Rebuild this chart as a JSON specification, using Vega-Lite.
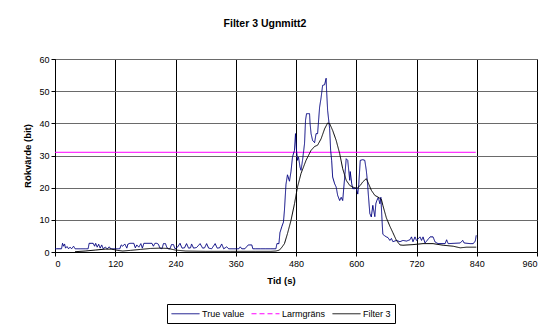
{
  "$schema": "https://vega.github.io/schema/vega-lite/v6.json",
  "width": 482,
  "height": 193,
  "autosize": {"type": "none"},
  "padding": {"left": 55, "top": 59, "right": 13, "bottom": 73},
  "background": "#ffffff",
  "title": {"text": "Filter 3 Ugnmitt2", "font": "Liberation Sans", "fontSize": 10.5, "fontWeight": "bold", "color": "#000000", "anchor": "middle", "dx": -31, "offset": 26},
  "config": {
    "view": {"stroke": "#808080", "strokeWidth": 1},
    "axis": {"labelFont": "Liberation Sans", "labelFontSize": 9, "labelColor": "#000000", "titleFont": "Liberation Sans", "titleFontSize": 9.5, "titleFontWeight": "bold", "titleColor": "#000000", "domainColor": "#000000", "tickColor": "#000000", "tickSize": 4}
  },
  "data": {"values": [
    {"s":"True value","t":0,"v":1.0},{"s":"True value","t":3,"v":1.0},{"s":"True value","t":6,"v":1.0},{"s":"True value","t":10,"v":1.0},{"s":"True value","t":13,"v":1.0},{"s":"True value","t":15,"v":2.7},{"s":"True value","t":17,"v":1.8},{"s":"True value","t":19,"v":2.5},{"s":"True value","t":21,"v":1.2},{"s":"True value","t":24,"v":1.7},{"s":"True value","t":27,"v":1.0},{"s":"True value","t":30,"v":1.5},{"s":"True value","t":33,"v":1.0},{"s":"True value","t":37,"v":1.8},{"s":"True value","t":40,"v":1.0},{"s":"True value","t":45,"v":1.0},{"s":"True value","t":50,"v":1.0},{"s":"True value","t":55,"v":1.0},{"s":"True value","t":60,"v":1.0},{"s":"True value","t":66,"v":1.0},{"s":"True value","t":68,"v":2.7},{"s":"True value","t":72,"v":2.7},{"s":"True value","t":76,"v":2.7},{"s":"True value","t":79,"v":1.8},{"s":"True value","t":81,"v":2.7},{"s":"True value","t":84,"v":1.5},{"s":"True value","t":87,"v":2.4},{"s":"True value","t":90,"v":1.2},{"s":"True value","t":93,"v":2.2},{"s":"True value","t":96,"v":1.0},{"s":"True value","t":100,"v":1.5},{"s":"True value","t":104,"v":1.0},{"s":"True value","t":108,"v":1.6},{"s":"True value","t":111,"v":1.0},{"s":"True value","t":115,"v":1.0},{"s":"True value","t":120,"v":1.0},{"s":"True value","t":125,"v":1.0},{"s":"True value","t":129,"v":1.0},{"s":"True value","t":132,"v":2.2},{"s":"True value","t":135,"v":1.8},{"s":"True value","t":139,"v":2.5},{"s":"True value","t":143,"v":1.2},{"s":"True value","t":145,"v":2.4},{"s":"True value","t":149,"v":2.7},{"s":"True value","t":153,"v":2.7},{"s":"True value","t":157,"v":2.7},{"s":"True value","t":160,"v":1.3},{"s":"True value","t":163,"v":2.2},{"s":"True value","t":167,"v":1.5},{"s":"True value","t":171,"v":2.6},{"s":"True value","t":174,"v":1.2},{"s":"True value","t":177,"v":2.7},{"s":"True value","t":181,"v":2.7},{"s":"True value","t":185,"v":2.7},{"s":"True value","t":189,"v":2.7},{"s":"True value","t":193,"v":2.7},{"s":"True value","t":196,"v":1.8},{"s":"True value","t":199,"v":2.7},{"s":"True value","t":203,"v":2.7},{"s":"True value","t":206,"v":2.4},{"s":"True value","t":209,"v":1.2},{"s":"True value","t":213,"v":1.0},{"s":"True value","t":216,"v":2.6},{"s":"True value","t":220,"v":2.6},{"s":"True value","t":223,"v":1.3},{"s":"True value","t":226,"v":1.0},{"s":"True value","t":229,"v":1.0},{"s":"True value","t":232,"v":2.3},{"s":"True value","t":236,"v":2.3},{"s":"True value","t":239,"v":1.0},{"s":"True value","t":244,"v":1.5},{"s":"True value","t":249,"v":2.7},{"s":"True value","t":253,"v":1.2},{"s":"True value","t":258,"v":1.3},{"s":"True value","t":262,"v":2.6},{"s":"True value","t":266,"v":1.2},{"s":"True value","t":270,"v":1.3},{"s":"True value","t":272,"v":2.5},{"s":"True value","t":276,"v":1.2},{"s":"True value","t":282,"v":1.4},{"s":"True value","t":289,"v":2.6},{"s":"True value","t":294,"v":1.2},{"s":"True value","t":298,"v":1.3},{"s":"True value","t":302,"v":2.6},{"s":"True value","t":306,"v":1.2},{"s":"True value","t":312,"v":1.0},{"s":"True value","t":319,"v":2.6},{"s":"True value","t":323,"v":1.2},{"s":"True value","t":328,"v":1.3},{"s":"True value","t":332,"v":2.5},{"s":"True value","t":336,"v":1.0},{"s":"True value","t":342,"v":1.6},{"s":"True value","t":346,"v":1.0},{"s":"True value","t":350,"v":1.0},{"s":"True value","t":360,"v":1.0},{"s":"True value","t":366,"v":1.0},{"s":"True value","t":369,"v":1.6},{"s":"True value","t":372,"v":1.0},{"s":"True value","t":378,"v":1.0},{"s":"True value","t":385,"v":2.2},{"s":"True value","t":388,"v":2.2},{"s":"True value","t":392,"v":2.2},{"s":"True value","t":394,"v":1.0},{"s":"True value","t":400,"v":1.0},{"s":"True value","t":410,"v":1.0},{"s":"True value","t":420,"v":1.0},{"s":"True value","t":430,"v":1.0},{"s":"True value","t":440,"v":1.0},
    {"s":"True value","t":442,"v":2.6},{"s":"True value","t":446,"v":2.6},{"s":"True value","t":448,"v":6.0},{"s":"True value","t":452,"v":8.0},{"s":"True value","t":455,"v":9.3},{"s":"True value","t":457,"v":13},{"s":"True value","t":460,"v":21},{"s":"True value","t":463,"v":24},{"s":"True value","t":467,"v":22},{"s":"True value","t":470,"v":25},{"s":"True value","t":473,"v":29.5},{"s":"True value","t":477,"v":31.6},{"s":"True value","t":479,"v":36.8},{"s":"True value","t":481,"v":31.6},{"s":"True value","t":483,"v":28.5},{"s":"True value","t":485,"v":29.5},{"s":"True value","t":488,"v":26.4},{"s":"True value","t":490,"v":25.4},{"s":"True value","t":493,"v":28.5},{"s":"True value","t":497,"v":33.7},{"s":"True value","t":499,"v":41},{"s":"True value","t":501,"v":43},{"s":"True value","t":507,"v":43},{"s":"True value","t":508,"v":40},{"s":"True value","t":510,"v":36.8},{"s":"True value","t":513,"v":34.7},{"s":"True value","t":517,"v":34},{"s":"True value","t":520,"v":36.8},{"s":"True value","t":523,"v":36.8},{"s":"True value","t":527,"v":45},{"s":"True value","t":530,"v":48},{"s":"True value","t":533,"v":51.8},{"s":"True value","t":537,"v":52},{"s":"True value","t":540,"v":54},{"s":"True value","t":541,"v":50},{"s":"True value","t":543,"v":44},{"s":"True value","t":547,"v":38.3},{"s":"True value","t":549,"v":31.6},{"s":"True value","t":551,"v":28.5},{"s":"True value","t":553,"v":23.3},{"s":"True value","t":557,"v":21.2},{"s":"True value","t":560,"v":20.2},{"s":"True value","t":563,"v":17.6},{"s":"True value","t":567,"v":16},{"s":"True value","t":570,"v":17},{"s":"True value","t":573,"v":16},{"s":"True value","t":577,"v":23.3},{"s":"True value","t":580,"v":29},{"s":"True value","t":583,"v":28.5},{"s":"True value","t":587,"v":22.3},{"s":"True value","t":588,"v":25},{"s":"True value","t":591,"v":21.2},{"s":"True value","t":593,"v":19.7},{"s":"True value","t":597,"v":19.7},{"s":"True value","t":600,"v":20},{"s":"True value","t":603,"v":18},{"s":"True value","t":605,"v":21},{"s":"True value","t":608,"v":28.5},{"s":"True value","t":613,"v":28.7},{"s":"True value","t":617,"v":28.5},{"s":"True value","t":620,"v":25.4},{"s":"True value","t":622,"v":22.3},{"s":"True value","t":624,"v":18},{"s":"True value","t":627,"v":12},{"s":"True value","t":630,"v":10.9},{"s":"True value","t":633,"v":14.5},{"s":"True value","t":637,"v":11},{"s":"True value","t":639,"v":15},{"s":"True value","t":641,"v":16},{"s":"True value","t":644,"v":17},{"s":"True value","t":647,"v":15},{"s":"True value","t":649,"v":17},{"s":"True value","t":652,"v":8},{"s":"True value","t":653,"v":5.5},{"s":"True value","t":657,"v":5.0},{"s":"True value","t":660,"v":4.7},{"s":"True value","t":663,"v":4.5},{"s":"True value","t":667,"v":3.6},{"s":"True value","t":670,"v":4.2},{"s":"True value","t":673,"v":3.2},{"s":"True value","t":680,"v":3.6},{"s":"True value","t":687,"v":3.2},{"s":"True value","t":693,"v":3.6},{"s":"True value","t":700,"v":3.4},{"s":"True value","t":707,"v":3.8},{"s":"True value","t":710,"v":4.7},{"s":"True value","t":713,"v":3.2},{"s":"True value","t":717,"v":4.7},{"s":"True value","t":720,"v":3.6},{"s":"True value","t":727,"v":4.7},{"s":"True value","t":730,"v":3.6},{"s":"True value","t":733,"v":4.7},{"s":"True value","t":737,"v":2.8},{"s":"True value","t":747,"v":4.7},{"s":"True value","t":753,"v":4.7},{"s":"True value","t":757,"v":3.1},{"s":"True value","t":763,"v":2.6},{"s":"True value","t":777,"v":2.6},{"s":"True value","t":780,"v":3.8},{"s":"True value","t":783,"v":2.6},{"s":"True value","t":807,"v":2.8},{"s":"True value","t":812,"v":3.6},{"s":"True value","t":815,"v":2.8},{"s":"True value","t":827,"v":2.6},{"s":"True value","t":833,"v":2.6},{"s":"True value","t":837,"v":3.4},{"s":"True value","t":839,"v":5.2},
    {"s":"Larmgräns","t":0,"v":31},{"s":"Larmgräns","t":838,"v":31},
    {"s":"Filter 3","t":40,"v":0.1},{"s":"Filter 3","t":60,"v":0.3},{"s":"Filter 3","t":80,"v":0.6},{"s":"Filter 3","t":100,"v":0.9},{"s":"Filter 3","t":112,"v":0.9},{"s":"Filter 3","t":125,"v":0.5},{"s":"Filter 3","t":135,"v":0.3},{"s":"Filter 3","t":150,"v":0.5},{"s":"Filter 3","t":170,"v":0.8},{"s":"Filter 3","t":190,"v":1.1},{"s":"Filter 3","t":210,"v":1.2},{"s":"Filter 3","t":225,"v":1.1},{"s":"Filter 3","t":240,"v":0.6},{"s":"Filter 3","t":260,"v":0.3},{"s":"Filter 3","t":300,"v":0.2},{"s":"Filter 3","t":350,"v":0.2},{"s":"Filter 3","t":400,"v":0.2},{"s":"Filter 3","t":430,"v":0.2},{"s":"Filter 3","t":440,"v":0.3},{"s":"Filter 3","t":447,"v":0.6},{"s":"Filter 3","t":452,"v":1.5},{"s":"Filter 3","t":457,"v":2.6},{"s":"Filter 3","t":463,"v":5.7},{"s":"Filter 3","t":470,"v":9.8},{"s":"Filter 3","t":477,"v":15},{"s":"Filter 3","t":483,"v":20.2},{"s":"Filter 3","t":490,"v":24.4},{"s":"Filter 3","t":500,"v":28.5},{"s":"Filter 3","t":510,"v":31.6},{"s":"Filter 3","t":517,"v":32.8},{"s":"Filter 3","t":523,"v":33.2},{"s":"Filter 3","t":530,"v":35.2},{"s":"Filter 3","t":537,"v":38.3},{"s":"Filter 3","t":543,"v":40.1},{"s":"Filter 3","t":547,"v":39.9},{"s":"Filter 3","t":553,"v":37.8},{"s":"Filter 3","t":560,"v":34.7},{"s":"Filter 3","t":567,"v":30.6},{"s":"Filter 3","t":573,"v":25.9},{"s":"Filter 3","t":580,"v":22.3},{"s":"Filter 3","t":587,"v":20.7},{"s":"Filter 3","t":593,"v":20.2},{"s":"Filter 3","t":601,"v":19.7},{"s":"Filter 3","t":608,"v":20.7},{"s":"Filter 3","t":613,"v":21.8},{"s":"Filter 3","t":620,"v":22.8},{"s":"Filter 3","t":623,"v":21.8},{"s":"Filter 3","t":630,"v":19.2},{"s":"Filter 3","t":637,"v":17.6},{"s":"Filter 3","t":643,"v":17.1},{"s":"Filter 3","t":650,"v":16.4},{"s":"Filter 3","t":653,"v":14.5},{"s":"Filter 3","t":660,"v":10.6},{"s":"Filter 3","t":667,"v":8.0},{"s":"Filter 3","t":673,"v":6.0},{"s":"Filter 3","t":680,"v":3.6},{"s":"Filter 3","t":687,"v":2.2},{"s":"Filter 3","t":693,"v":2.1},{"s":"Filter 3","t":713,"v":2.3},{"s":"Filter 3","t":733,"v":2.6},{"s":"Filter 3","t":753,"v":2.6},{"s":"Filter 3","t":773,"v":2.1},{"s":"Filter 3","t":793,"v":1.8},{"s":"Filter 3","t":807,"v":1.3},{"s":"Filter 3","t":820,"v":1.5},{"s":"Filter 3","t":839,"v":1.5}
  ]},
  "encoding": {
    "x": {"field": "t", "type": "quantitative", "title": "Tid (s)",
      "scale": {"domain": [0, 960], "nice": false},
      "axis": {"values": [0,120,240,360,480,600,720,840,960], "grid": true, "gridColor": "#000000", "gridWidth": 1, "labelPadding": 3, "titlePadding": 7, "titleX": 226}},
    "y": {"field": "v", "type": "quantitative", "title": "Rökvärde (bit)",
      "scale": {"domain": [0, 60], "nice": false},
      "axis": {"values": [0,10,20,30,40,50,60], "grid": true, "gridColor": "#6a6a6a", "gridWidth": 1, "labelPadding": 2, "titlePadding": 6}}
  },
  "layer": [
    {
      "transform": [{"filter": "datum.s === 'Larmgräns'"}],
      "mark": {"type": "line", "color": "#ff00ff", "strokeWidth": 1},
      "encoding": {}
    },
    {
      "transform": [{"filter": "datum.s !== 'Larmgräns'"}],
      "mark": {"type": "line", "interpolate": "linear"},
      "encoding": {
        "color": {"field": "s", "type": "nominal", "title": null,
          "scale": {"domain": ["True value", "Larmgräns", "Filter 3"], "range": ["#000080", "#ff00ff", "#000000"]},
          "legend": {"orient": "none", "legendX": 112, "legendY": 245, "direction": "horizontal", "strokeColor": "#000000", "padding": 4, "symbolType": "M-2.8,0L2.8,0", "symbolSize": 100, "symbolOffset": 9, "labelFont": "Liberation Sans", "labelFontSize": 9, "labelColor": "#000000", "labelOffset": 11, "columnPadding": 4, "fillColor": "#ffffff",
            "encode": {"symbols": {"update": {"strokeWidth": [{"test": "datum.value === 'Filter 3'", "value": 2}, {"value": 1}]}}}}},
        "strokeDash": {"field": "s", "type": "nominal", "title": null,
          "scale": {"domain": ["True value", "Larmgräns", "Filter 3"], "range": [[1, 0], [5, 3], [1, 0]]}},
        "strokeWidth": {"field": "s", "type": "nominal", "title": null,
          "scale": {"domain": ["True value", "Larmgräns", "Filter 3"], "range": [1, 1, 2]}}
      }
    }
  ]
}
